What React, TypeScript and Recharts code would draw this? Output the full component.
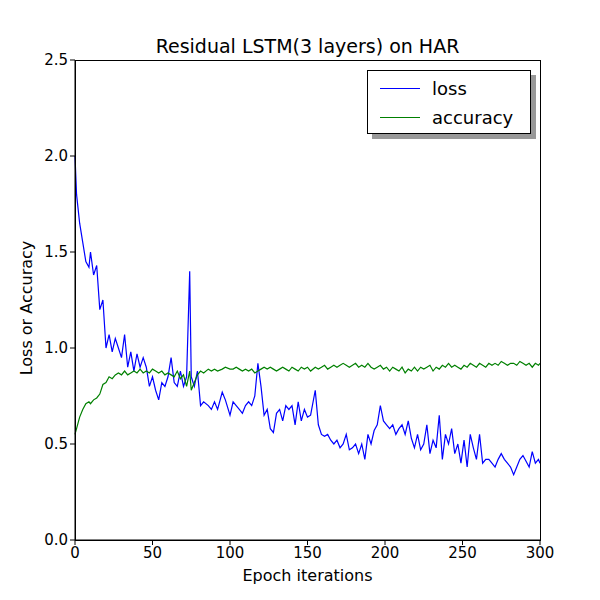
import { LineChart, Line, XAxis, YAxis, Label } from "recharts";

const epochs = [0,1,3,5,7,9,10,12,14,16,18,20,22,24,26,28,30,32,34,36,38,40,42,44,46,48,50,52,54,56,58,60,62,64,66,68,70,72,74,75,77,79,81,83,86,88,90,92,95,97,100,102,104,106,108,110,112,114,116,118,120,122,124,126,128,130,132,134,136,138,140,142,144,146,148,150,152,155,157,159,161,163,165,167,169,171,173,175,177,179,181,183,185,187,189,191,193,195,197,199,201,203,205,207,209,211,213,215,217,219,221,223,225,227,229,231,233,235,237,239,241,243,245,247,249,251,253,255,257,259,261,263,265,267,269,271,273,275,277,279,281,283,285,287,289,291,293,295,297,299,300];

const loss = [2.0,1.8,1.65,1.55,1.45,1.42,1.5,1.38,1.43,1.2,1.25,1.0,1.07,0.98,1.05,1.0,0.95,1.07,0.9,0.98,0.88,0.97,0.9,0.95,0.9,0.8,0.85,0.78,0.73,0.82,0.8,0.85,0.95,0.82,0.8,0.88,0.8,0.85,1.4,0.85,0.8,0.88,0.7,0.72,0.7,0.68,0.72,0.68,0.77,0.73,0.65,0.72,0.7,0.68,0.66,0.7,0.72,0.7,0.75,0.92,0.8,0.65,0.68,0.58,0.56,0.66,0.68,0.62,0.7,0.68,0.7,0.6,0.72,0.62,0.68,0.64,0.65,0.78,0.6,0.55,0.54,0.55,0.52,0.5,0.52,0.48,0.5,0.55,0.47,0.48,0.5,0.45,0.5,0.42,0.55,0.5,0.57,0.6,0.7,0.62,0.6,0.58,0.6,0.55,0.58,0.6,0.55,0.62,0.53,0.48,0.55,0.47,0.5,0.6,0.45,0.52,0.48,0.65,0.42,0.55,0.5,0.58,0.45,0.5,0.4,0.52,0.38,0.55,0.48,0.42,0.55,0.4,0.42,0.42,0.4,0.38,0.42,0.45,0.42,0.4,0.38,0.34,0.38,0.42,0.44,0.41,0.38,0.46,0.4,0.42,0.4];

const accuracy = [0.55,0.58,0.64,0.68,0.71,0.72,0.71,0.73,0.74,0.76,0.81,0.82,0.85,0.84,0.86,0.87,0.86,0.88,0.86,0.87,0.88,0.87,0.89,0.87,0.88,0.87,0.89,0.88,0.87,0.88,0.86,0.87,0.86,0.85,0.88,0.84,0.86,0.8,0.88,0.78,0.82,0.86,0.88,0.87,0.89,0.88,0.89,0.88,0.89,0.9,0.89,0.89,0.9,0.89,0.88,0.89,0.88,0.89,0.87,0.88,0.89,0.9,0.89,0.9,0.89,0.88,0.89,0.9,0.89,0.88,0.9,0.89,0.88,0.9,0.89,0.9,0.88,0.9,0.89,0.9,0.91,0.89,0.9,0.91,0.9,0.91,0.92,0.91,0.9,0.91,0.92,0.9,0.91,0.9,0.92,0.9,0.89,0.9,0.91,0.89,0.9,0.88,0.9,0.89,0.88,0.9,0.87,0.89,0.88,0.9,0.88,0.9,0.89,0.9,0.91,0.88,0.9,0.89,0.91,0.9,0.92,0.9,0.91,0.9,0.89,0.91,0.9,0.92,0.91,0.9,0.92,0.91,0.9,0.92,0.91,0.92,0.91,0.93,0.92,0.91,0.92,0.92,0.91,0.93,0.92,0.91,0.92,0.9,0.92,0.91,0.92];

const xTicks = [0, 50, 100, 150, 200, 250, 300];
const yTicks = [0, 0.5, 1.0, 1.5, 2.0, 2.5];

const rows = epochs.map((e, i) => ({ epoch: e, loss: loss[i], accuracy: accuracy[i] }));

const font = "'DejaVu Sans', sans-serif";

export default function App() {
  return (
    <div style={{ position: "relative", width: 600, height: 600, fontFamily: font, background: "#fff" }}>
      <div style={{ position: "absolute", top: 27, left: 67, width: 465, textAlign: "center", fontSize: 19 }}>
        Residual LSTM(3 layers) on HAR
      </div>
      <div style={{ position: "absolute", left: 18, top: 300, fontSize: 16, whiteSpace: "nowrap", transform: "translate(-50%, -50%) rotate(-90deg)" }}>
        Loss or Accuracy
      </div>
      <LineChart width={600} height={600} data={rows} margin={{ top: 52, right: 68, left: 27, bottom: 38 }}>
        <XAxis dataKey="epoch" type="number" domain={[0, 300]} ticks={xTicks} stroke="#000"
          tick={{ fill: "#000", fontSize: 15, fontFamily: font }} height={30} tickSize={5}>
          <Label value="Epoch iterations" position="bottom" offset={0} dy={0} style={{ fill: "#000", fontSize: 16, fontFamily: font }} />
        </XAxis>
        <YAxis type="number" domain={[0, 2.5]} ticks={yTicks} stroke="#000" width={40} tickSize={5}
          tickFormatter={(v: number) => v.toFixed(1)} tick={{ fill: "#000", fontSize: 15, fontFamily: font }} />
        <Line dataKey="loss" stroke="#0000ff" strokeWidth={1.2} dot={false} isAnimationActive={false} />
        <Line dataKey="accuracy" stroke="#008000" strokeWidth={1.2} dot={false} isAnimationActive={false} />
      </LineChart>
      <div style={{ position: "absolute", left: 67, top: 52, width: 464, height: 479, border: "1px solid #000", pointerEvents: "none" }} />
      <div style={{ position: "absolute", left: 359, top: 62, width: 162, height: 62, border: "1px solid #000", background: "#fff", boxShadow: "5px 5px 0 #999", fontSize: 18 }}>
        <div style={{ display: "flex", alignItems: "center", height: 30, marginTop: 2 }}>
          <div style={{ width: 40, height: 0, borderTop: "1.5px solid #0000ff", marginLeft: 12, marginRight: 12 }} />loss
        </div>
        <div style={{ display: "flex", alignItems: "center", height: 28 }}>
          <div style={{ width: 40, height: 0, borderTop: "1.5px solid #008000", marginLeft: 12, marginRight: 12 }} />accuracy
        </div>
      </div>
    </div>
  );
}
